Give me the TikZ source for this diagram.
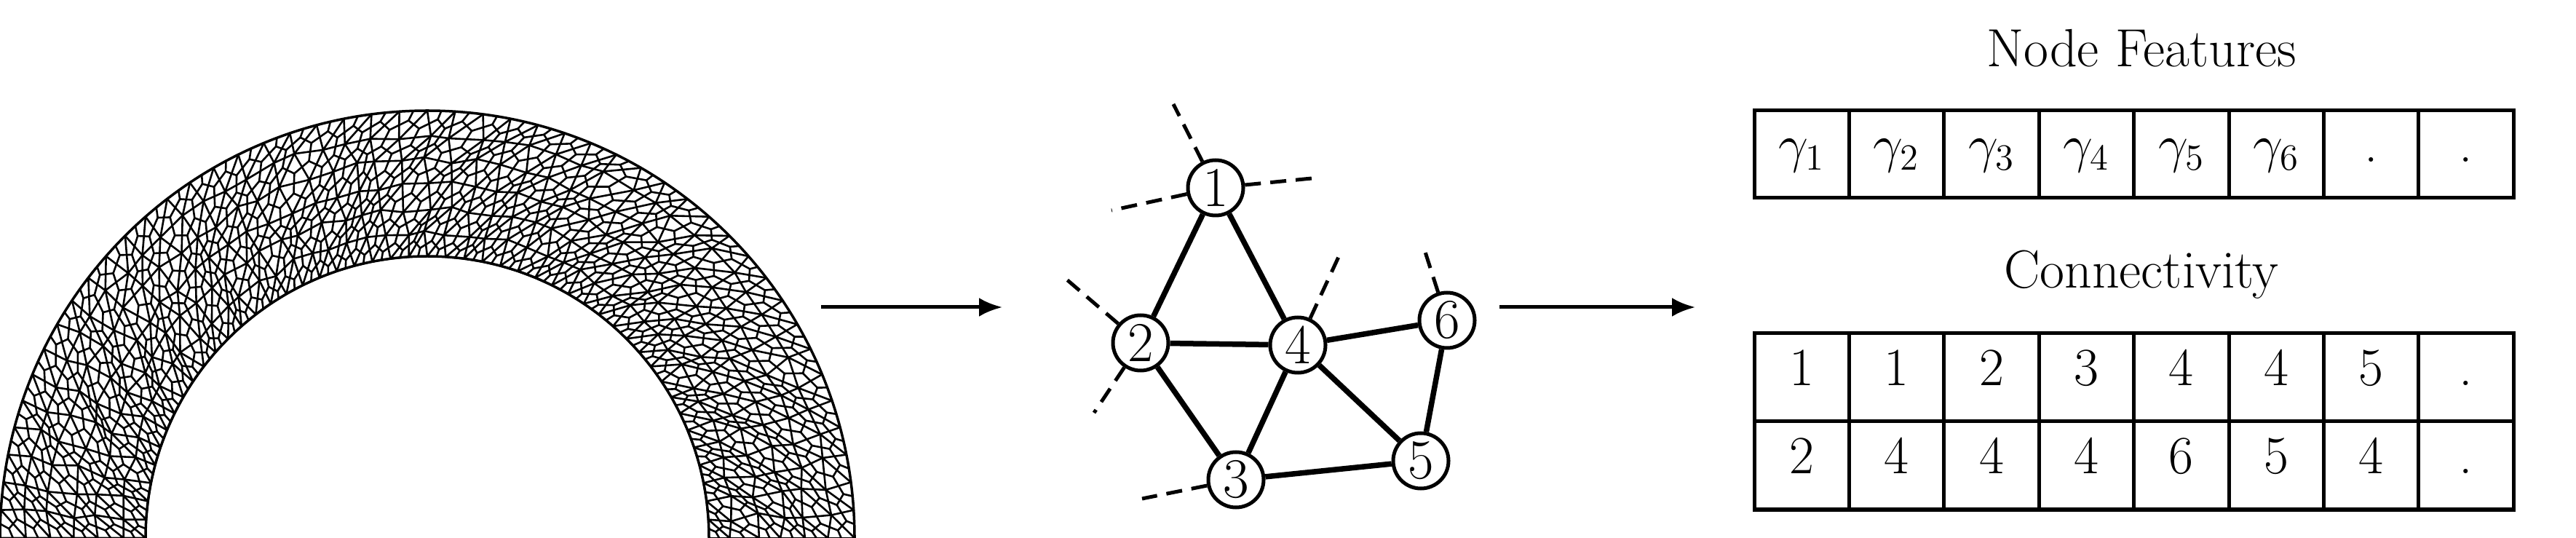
\documentclass[tikz,border=0pt]{standalone}
\usetikzlibrary{calc,arrows.meta}
\begin{document}
\begin{tikzpicture}[
  meshline/.style={line width=0.026cm,line cap=round},
  gnode/.style={circle,draw,fill=white,line width=0.05cm,minimum size=0.76cm,inner sep=0pt,font=\fontsize{22}{26}\selectfont},
  gedge/.style={line width=0.075cm},
  stub/.style={line width=0.05cm,dash pattern=on 0.22cm off 0.13cm},
  flow/.style={line width=0.05cm,-{Latex[length=0.32cm,width=0.26cm]}},
  cell/.style={draw,line width=0.05cm,minimum width=1.304cm,inner sep=0pt,text height=0.7em,text depth=0.1em,font=\fontsize{21}{25}\selectfont},
  ttl/.style={font=\fontsize{21}{25}\selectfont,anchor=base}
]
\useasboundingbox (0,0) rectangle (35.39,7.39);
% ---------- mesh ----------
\pgfmathsetseed{11}
\foreach \i in {0,...,6}{
  \foreach \j in {0,...,48}{
    \pgfmathsetmacro\ai{(\i>0)*(\i<6)}
    \pgfmathsetmacro\aj{(\j>0)*(\j<48)}
    \pgfmathsetmacro\rr{3.87+\i*0.3333+\ai*0.05*rand}
    \pgfmathsetmacro\tt{180-\j*180/48+\aj*\ai*0.7*rand}
    \coordinate (p-\i-\j) at ($(5.87,0)+(\tt:\rr)$);
  }
}
\foreach \i in {0,...,5}{
  \foreach \j in {0,...,47}{
    \pgfmathtruncatemacro\ii{\i+1}
    \pgfmathtruncatemacro\jj{\j+1}
    \coordinate (a-\i-\j) at ($0.3333*(p-\i-\j)+0.3333*(p-\ii-\j)+0.3334*(p-\ii-\jj)$);
    \coordinate (b-\i-\j) at ($0.3333*(p-\i-\j)+0.3333*(p-\ii-\jj)+0.3334*(p-\i-\jj)$);
  }
}
\foreach \i in {0,...,5}{
  \foreach \j in {0,...,47}{
    \pgfmathtruncatemacro\ii{\i+1}
    \pgfmathtruncatemacro\jj{\j+1}
    \pgfmathtruncatemacro\jm{\j-1}
    \draw[meshline] (p-\i-\j) -- (p-\ii-\j) (p-\i-\j) -- (p-\ii-\jj) (p-\i-\j) -- (p-\i-\jj);
    \draw[meshline] (a-\i-\j) -- (b-\i-\j);
    \ifnum\j>0 \draw[meshline] (a-\i-\j) -- (b-\i-\jm);
    \else \draw[meshline] (a-\i-\j) -- ($(p-\i-\j)!0.5!(p-\ii-\j)$); \fi
    \ifnum\i<5 \draw[meshline] (a-\i-\j) -- (b-\ii-\j);
    \else \draw[meshline] (a-\i-\j) -- ($(p-\ii-\j)!0.5!(p-\ii-\jj)$); \fi
    \ifnum\i=0 \draw[meshline] (b-\i-\j) -- ($(p-\i-\j)!0.5!(p-\i-\jj)$); \fi
    \ifnum\j=47 \draw[meshline] (b-\i-\j) -- ($(p-\i-\jj)!0.5!(p-\ii-\jj)$);
      \draw[meshline] (p-\i-\jj) -- (p-\ii-\jj); \fi
  }
}
\draw[line width=0.035cm] (0,0) arc (180:0:5.87) (2.0,0) arc (180:0:3.87);
% ---------- graph ----------
\node[gnode] (n1) at (16.70,4.81) {1};
\node[gnode] (n2) at (15.67,2.68) {2};
\node[gnode] (n4) at (17.83,2.65) {4};
\node[gnode] (n6) at (19.88,2.99) {6};
\node[gnode] (n5) at (19.52,1.06) {5};
\node[gnode] (n3) at (16.98,0.80) {3};
\coordinate (s1a) at (16.12,5.96);
\coordinate (s1b) at (15.27,4.50);
\coordinate (s1c) at (18.02,4.94);
\coordinate (s2a) at (14.62,3.58);
\coordinate (s2b) at (15.03,1.72);
\coordinate (s4) at (18.44,3.97);
\coordinate (s6) at (19.56,3.99);
\coordinate (s3) at (15.69,0.54);
\draw[gedge] (n1)--(n2) (n1)--(n4) (n2)--(n4) (n2)--(n3) (n3)--(n4) (n4)--(n5) (n4)--(n6) (n6)--(n5) (n3)--(n5);
\draw[stub] (n1)--(s1a); \draw[stub] (n1)--(s1b); \draw[stub] (n1)--(s1c);
\draw[stub] (n2)--(s2a); \draw[stub] (n2)--(s2b);
\draw[stub] (n4)--(s4); \draw[stub] (n6)--(s6); \draw[stub] (n3)--(s3);
% ---------- arrows ----------
\coordinate (a1s) at (11.28,3.17);
\coordinate (a1e) at (13.77,3.17);
\coordinate (a2s) at (20.60,3.17);
\coordinate (a2e) at (23.29,3.17);
\draw[flow] (a1s) -- (a1e);
\draw[flow] (a2s) -- (a2e);
% ---------- tables ----------
\node[ttl] (t1) at (29.42,6.47) {Node Features};
\node[ttl] (t2) at (29.42,3.43) {Connectivity};
\foreach \k/\v in {0/$\gamma_1$,1/$\gamma_2$,2/$\gamma_3$,3/$\gamma_4$,4/$\gamma_5$,5/$\gamma_6$,6/.,7/.}{
  \node[cell,minimum height=1.2cm] (f\k) at (24.10+0.652+\k*1.304,5.27) {\v};
}
\foreach \k/\v in {0/1,1/1,2/2,3/3,4/4,5/4,6/5,7/.}{
  \node[cell,minimum height=1.21cm] (c\k) at (24.10+0.652+\k*1.304,2.205) {\v};
}
\foreach \k/\v in {0/2,1/4,2/4,3/4,4/6,5/5,6/4,7/.}{
  \node[cell,minimum height=1.21cm] (d\k) at (24.10+0.652+\k*1.304,0.995) {\v};
}
\end{tikzpicture}
\end{document}
